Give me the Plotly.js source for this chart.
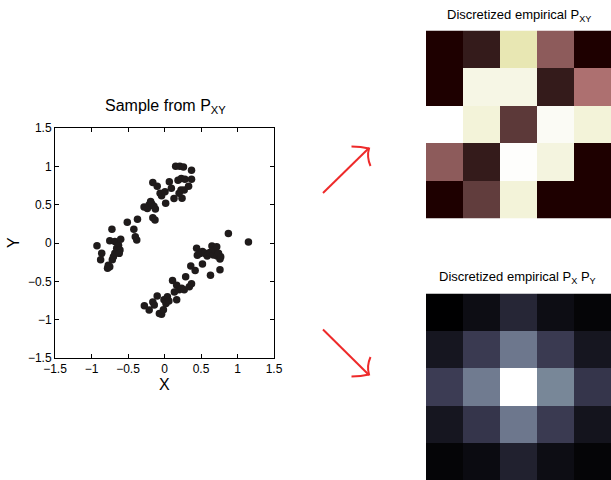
<!DOCTYPE html>
<html>
<head>
<meta charset="utf-8">
<script src="https://cdn.plot.ly/plotly-3.0.1.min.js"></script>
<style>html,body{margin:0;padding:0;background:#fff;}#chart{width:611px;height:480px;}</style>
</head>
<body>
<div id="chart"></div>
<script>
// ---- Data ----
const sampleX = [-0.925,-0.86,-0.875,-0.72,-0.75,-0.68,-0.77,-0.78,-0.75,-0.715,-0.70,-0.68,-0.655,-0.63,-0.61,-0.62,-0.60,-0.51,-0.42,-0.40,-0.38,-0.37,-0.28,-0.235,-0.21,-0.19,-0.175,-0.16,-0.145,-0.125,-0.16,-0.13,-0.10,-0.06,-0.04,0.007,0.016,0.066,0.094,0.13,0.153,0.21,0.26,0.185,0.23,0.226,0.24,0.27,0.28,0.37,0.37,0.33,0.20,
  -0.276,-0.21,-0.16,-0.14,-0.10,-0.07,-0.04,-0.015,-0.007,0.02,0.04,0.06,0.11,0.135,0.167,0.167,0.20,0.235,0.27,0.29,0.34,0.36,0.37,0.42,0.44,0.45,0.49,0.52,0.52,0.555,0.585,0.62,0.63,0.65,0.67,0.69,0.715,0.72,0.76,0.74,0.77,0.76,0.875,1.15];
const sampleY = [-0.035,-0.135,-0.22,0.18,0.03,0.02,-0.29,-0.33,-0.31,-0.22,-0.18,-0.135,-0.07,-0.03,-0.09,-0.135,0.05,0.27,0.18,0.08,0.04,0.31,0.47,0.45,0.50,0.54,0.51,0.79,0.48,0.445,0.33,0.30,0.74,0.65,0.615,0.67,0.52,0.80,0.715,0.58,1.0,1.0,0.99,0.82,0.84,0.69,0.585,0.69,0.83,0.95,0.83,0.74,0.65,
  -0.82,-0.875,-0.77,-0.81,-0.69,-0.92,-0.93,-0.87,-0.74,-0.79,-0.70,-0.755,-0.49,-0.64,-0.55,-0.74,-0.61,-0.59,-0.61,-0.44,-0.57,-0.30,-0.53,-0.36,-0.07,-0.16,-0.135,-0.275,-0.11,-0.135,-0.17,-0.125,-0.42,-0.04,-0.155,-0.09,-0.05,-0.17,-0.21,-0.135,-0.18,-0.35,0.125,0.013];
const axisTicks = [-1.5,-1,-0.5,0,0.5,1,1.5];
// discretized empirical joint (rows top to bottom), normalised to max
const pXY = [
  [0.00, 0.018, 0.74, 0.19, 0.00],
  [0.00, 0.90, 0.90, 0.018, 0.29],
  [1.00, 0.86, 0.075, 0.96, 0.86],
  [0.19, 0.018, 0.99, 0.88, 0.00],
  [0.00, 0.085, 0.86, 0.00, 0.00]
];
// discretized product of marginals (rows top to bottom), normalised to max
const pXpY = [
  [0.00, 0.06, 0.17, 0.06, 0.02],
  [0.10, 0.26, 0.49, 0.26, 0.10],
  [0.27, 0.50, 1.00, 0.54, 0.24],
  [0.10, 0.24, 0.49, 0.26, 0.09],
  [0.02, 0.05, 0.15, 0.06, 0.02]
];

// ---- MATLAB-like colormaps ----
function hot(m){
  const n = Math.floor(3/8*m), out=[];
  for(let i=1;i<=m;i++){
    const r = i<=n ? i/n : 1;
    const g = i<=n ? 0 : (i<=2*n ? (i-n)/n : 1);
    const b = i<=2*n ? 0 : (i-2*n)/(m-2*n);
    out.push([r,g,b]);
  }
  return out;
}
function toScale(cols){
  const m = cols.length;
  return cols.map((c,i)=>[i/(m-1), `rgb(${Math.round(c[0]*255)},${Math.round(c[1]*255)},${Math.round(c[2]*255)})`]);
}
const M=64, H=hot(M);
const pinkCols = H.map((h,i)=>{const g=i/(M-1);return [Math.sqrt((2*g+h[0])/3),Math.sqrt((2*g+h[1])/3),Math.sqrt((2*g+h[2])/3)];});
const boneCols = H.map((h,i)=>{const g=i/(M-1);return [(7*g+h[2])/8,(7*g+h[1])/8,(7*g+h[0])/8];});

const W=611, Ht=480;
const px = x => x/W, py = y => 1 - y/Ht;
const P = (x,y) => `${px(x).toFixed(5)},${py(y).toFixed(5)}`;

const traces = [
  {type:'scatter', mode:'markers', x:sampleX, y:sampleY, xaxis:'x', yaxis:'y',
   marker:{color:'#1f1b1b', size:7.5, line:{width:0}}, hoverinfo:'skip'},
  {type:'heatmap', z:pXY, xaxis:'x2', yaxis:'y2', zmin:0, zmax:1, colorscale:toScale(pinkCols), showscale:false, hoverinfo:'skip'},
  {type:'heatmap', z:pXpY, xaxis:'x3', yaxis:'y3', zmin:0, zmax:1, colorscale:toScale(boneCols), showscale:false, hoverinfo:'skip'}
];

const baseAx = {range:[-1.5,1.5], tickvals:axisTicks, ticks:'inside', ticklen:4, tickwidth:1, tickcolor:'#000',
  showline:true, linecolor:'#000', linewidth:1, mirror:'allticks', showgrid:false, zeroline:false,
  tickfont:{size:12, color:'#000'}, fixedrange:true};
const hidden = {visible:false, fixedrange:true};

const red = '#ee2a2a';
const arrowLine = {color:red, width:2};
const shapes = [
  {type:'path', xref:'paper', yref:'paper', path:`M${P(323,193)} L${P(369,148)}`, line:arrowLine},
  {type:'path', xref:'paper', yref:'paper', path:`M${P(351.5,146.5)} Q${P(361,146.5)} ${P(369,148.5)} Q${P(366.5,157)} ${P(370.5,166)}`, line:arrowLine},
  {type:'path', xref:'paper', yref:'paper', path:`M${P(323,329.5)} L${P(369,375)}`, line:arrowLine},
  {type:'path', xref:'paper', yref:'paper', path:`M${P(351.5,376.5)} Q${P(361,376.5)} ${P(369,374.5)} Q${P(366.5,366)} ${P(370.5,357)}`, line:arrowLine}
];

const annotations = [
  {text:'Sample from P<sub>XY</sub>', xref:'paper', yref:'paper', x:px(165), y:py(106), xanchor:'center', yanchor:'middle', showarrow:false, font:{size:16, color:'#000'}},
  {text:'X', xref:'paper', yref:'paper', x:px(164), y:py(384), xanchor:'center', yanchor:'middle', showarrow:false, font:{size:16, color:'#000'}},
  {text:'Y', xref:'paper', yref:'paper', x:px(13), y:py(243), xanchor:'center', yanchor:'middle', textangle:-90, showarrow:false, font:{size:16, color:'#000'}},
  {text:'Discretized empirical P<sub>XY</sub>', xref:'paper', yref:'paper', x:px(519), y:py(15), xanchor:'center', yanchor:'middle', showarrow:false, font:{size:13, color:'#000'}},
  {text:'Discretized empirical P<sub>X</sub> P<sub>Y</sub>', xref:'paper', yref:'paper', x:px(517), y:py(277), xanchor:'center', yanchor:'middle', showarrow:false, font:{size:13, color:'#000'}}
];

const layout = {
  width:W, height:Ht, margin:{l:0,r:0,t:0,b:0}, paper_bgcolor:'#fff', plot_bgcolor:'#fff', showlegend:false,
  font:{family:'Liberation Sans, Arial, Helvetica, sans-serif', color:'#000'},
  xaxis:Object.assign({}, baseAx, {domain:[px(55), px(274)], anchor:'y'}),
  yaxis:Object.assign({}, baseAx, {domain:[py(358), py(128)], anchor:'x'}),
  xaxis2:Object.assign({}, hidden, {domain:[px(426), 1], anchor:'y2'}),
  yaxis2:Object.assign({}, hidden, {domain:[py(218.5), py(30.5)], anchor:'x2', autorange:'reversed'}),
  xaxis3:Object.assign({}, hidden, {domain:[px(426), 1], anchor:'y3'}),
  yaxis3:Object.assign({}, hidden, {domain:[0, py(293.5)], anchor:'x3', autorange:'reversed'}),
  shapes:shapes, annotations:annotations
};

Plotly.newPlot('chart', traces, layout, {displayModeBar:false, staticPlot:true});
</script>
</body>
</html>
